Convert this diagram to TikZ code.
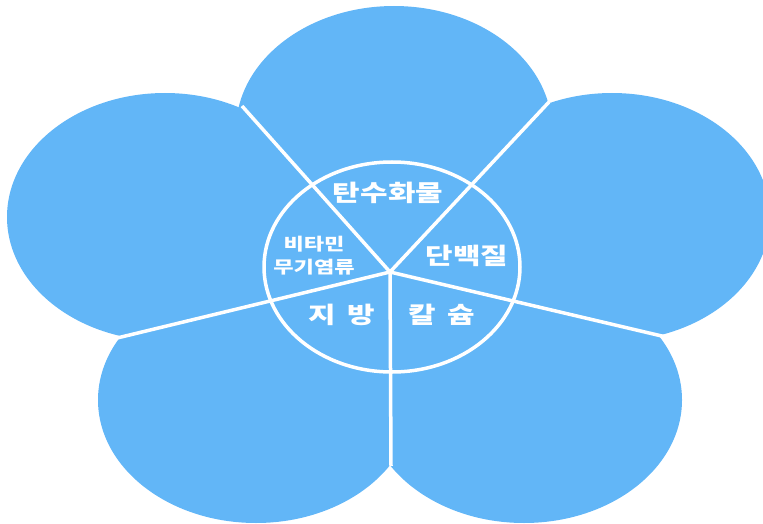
\documentclass[tikz,border=0pt]{standalone}
\usepackage{fontspec}
\newfontfamily\krfont{Noto Sans CJK KR}[FakeStretch=1.3]
\usepackage{tikz}
\usetikzlibrary{positioning}
\definecolor{petalblue}{HTML}{62B6F7}

\begin{document}
\begin{tikzpicture}[
    x=1pt, y=-1pt,
    petal/.style={fill=petalblue, draw=none},
    divider/.style={draw=white, line width=3.5pt},
    partlabel/.style={text=white, inner sep=0pt, font=\krfont\bfseries\fontsize{23}{25}\selectfont},
    smalllabel/.style={partlabel, align=center, font=\krfont\bfseries\fontsize{17}{23}\selectfont}
]
    \useasboundingbox (0,0) rectangle (763,524);
    \clip (0,0) rectangle (763,524);

    % Petals
    \fill[petal] (394,130) ellipse [x radius=158pt, y radius=124pt];
    \fill[petal] (612,217) ellipse [x radius=158pt, y radius=124pt];
    \fill[petal] (524,400) ellipse [x radius=158pt, y radius=123pt];
    \fill[petal] (256,400) ellipse [x radius=158pt, y radius=123pt];
    \fill[petal] (165,217) ellipse [x radius=158pt, y radius=124pt];

    % Hub and notches
    \coordinate (hub) at (390,272);
    \coordinate (nTL) at (242,106);
    \coordinate (nTR) at (549,102);
    \coordinate (nR) at (666,337);
    \coordinate (nB) at (391,466);
    \coordinate (nL) at (113,339);

    % Centre disc
    \filldraw[petal, divider] (392,267) ellipse [x radius=128pt, y radius=105pt];
    \foreach \n in {nTL,nTR,nR,nB,nL}
        \draw[divider] (hub) -- (\n);

    % Labels
    \node[partlabel] (carb) at (388,193) {탄수화물};
    \node[partlabel] (protein) at (467,256) {단백질};
    \node[smalllabel] (vitamin) at (314,256) {비타민\\무기염류};
    \node[partlabel] (fat) at (342,315) {지\hspace{0.5em}방};
    \node[partlabel] (calcium) at (442,315) {칼\hspace{0.5em}슘};
\end{tikzpicture}
\end{document}
